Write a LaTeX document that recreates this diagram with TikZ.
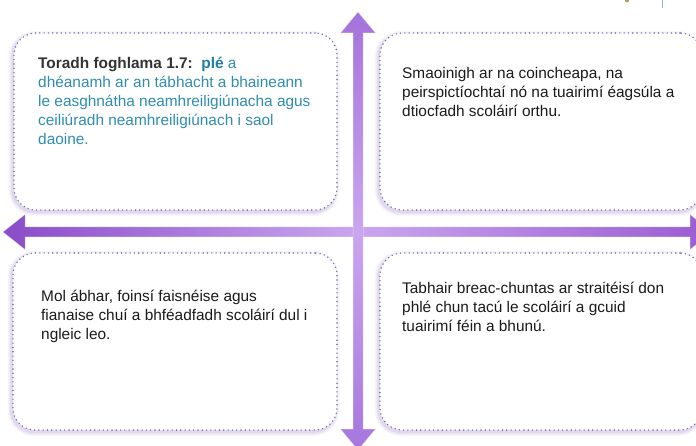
\documentclass[tikz,border=0pt]{standalone}
\usepackage{fontspec}
\setmainfont{Liberation Sans}
\definecolor{hL}{HTML}{8A4CC9}
\definecolor{hM}{HTML}{CAA6EE}
\definecolor{hR}{HTML}{9A5BD2}
\definecolor{vT}{HTML}{A472DB}
\definecolor{vB}{HTML}{A676DD}
\definecolor{dotcol}{HTML}{7E66B8}
\definecolor{shcol}{HTML}{9C84C8}
\definecolor{tealtxt}{HTML}{2F8DAE}
\definecolor{tealbold}{HTML}{1F7EA3}
\definecolor{darktxt}{HTML}{333333}
\definecolor{blacktxt}{HTML}{1A1A1A}
\definecolor{tancol}{HTML}{B89A62}
\definecolor{tealline}{HTML}{8DBCC6}
\pgfdeclarehorizontalshading{harrow}{100bp}{color(0bp)=(hL); color(25bp)=(hL); color(50bp)=(hM); color(75bp)=(hR); color(100bp)=(hR)}
\pgfdeclareverticalshading{varrow}{100bp}{color(0bp)=(vB); color(25bp)=(vB); color(50bp)=(hM); color(75bp)=(vT); color(100bp)=(vT)}
\tikzset{
  box/.style={draw=dotcol, fill=white, line width=1.6pt, dash pattern=on 0pt off 4.3pt, line cap=round, rounded corners=22pt, inner sep=0pt},
  txt/.style={anchor=base west, inner sep=0pt},
  arrowshape/.style={draw=white, draw opacity=0.45, line width=0.5pt}
}
\newcommand{\boxtext}[1]{\parbox[t]{320pt}{\fontsize{15.4}{19}\selectfont #1}}
\begin{document}
\begin{tikzpicture}[x=1pt,y=-1pt]
\useasboundingbox (0,0) rectangle (696,446);
\fill[white] (0,0) rectangle (696,446);
\clip (0,0) rectangle (696,446);
% tiny fragments at top right
\fill[tancol] (627,0.5) circle (2);
\draw[tealline, line width=0.8pt] (662,0) -- (662,8);
% boxes with soft shadow
\foreach \n/\cx/\cy/\w/\h in {tl/175.5/121.5/323/177, tr/541/121.5/322/177, bl/175/341.5/324/177, br/541/341.5/322/177}{
  \foreach \s/\o in {4/0.06, 3/0.07, 2/0.09, 1/0.12}
    \fill[shcol, opacity=\o, rounded corners={22+\s}] (\cx-\w/2-\s-1.5, \cy-\h/2-\s+2) rectangle (\cx+\w/2+\s-1.5, \cy+\h/2+\s+2);
  \node[box, minimum width=\w pt, minimum height=\h pt] (\n) at (\cx,\cy) {};
}
% horizontal arrow
\path[arrowshape, shading=harrow] (3,232) -- (25,214.5) -- (25,227) -- (690,227) -- (690,214.5) -- (712,232) -- (690,249.5) -- (690,237) -- (25,237) -- (25,249.5) -- cycle;
% vertical arrow
\path[arrowshape, shading=varrow] (358,12) -- (375.5,33) -- (363,33) -- (363,429) -- (375.5,429) -- (358,450) -- (340.5,429) -- (353,429) -- (353,33) -- (340.5,33) -- cycle;
% texts
\node[txt] (tltext) at (38,57) {\boxtext{{\color{darktxt}\textbf{Toradh foghlama 1.7:}}\ \ {\color{tealbold}\textbf{plé}} {\color{tealtxt}a\\dhéanamh ar an tábhacht a bhaineann\\le easghnátha neamhreiligiúnacha agus\\ceiliúradh neamhreiligiúnach i saol\\daoine.}}};
\node[txt] (trtext) at (402,67) {\boxtext{\color{blacktxt}Smaoinigh ar na coincheapa, na\\peirspictíochtaí nó na tuairimí éagsúla a\\dtiocfadh scoláirí orthu.}};
\node[txt] (bltext) at (41,290) {\boxtext{\color{blacktxt}Mol ábhar, foinsí faisnéise agus\\fianaise chuí a bhféadfadh scoláirí dul i\\ngleic leo.}};
\node[txt] (brtext) at (402,282) {\boxtext{\color{blacktxt}Tabhair breac-chuntas ar straitéisí don\\phlé chun tacú le scoláirí a gcuid\\tuairimí féin a bhunú.}};
\end{tikzpicture}
\end{document}
